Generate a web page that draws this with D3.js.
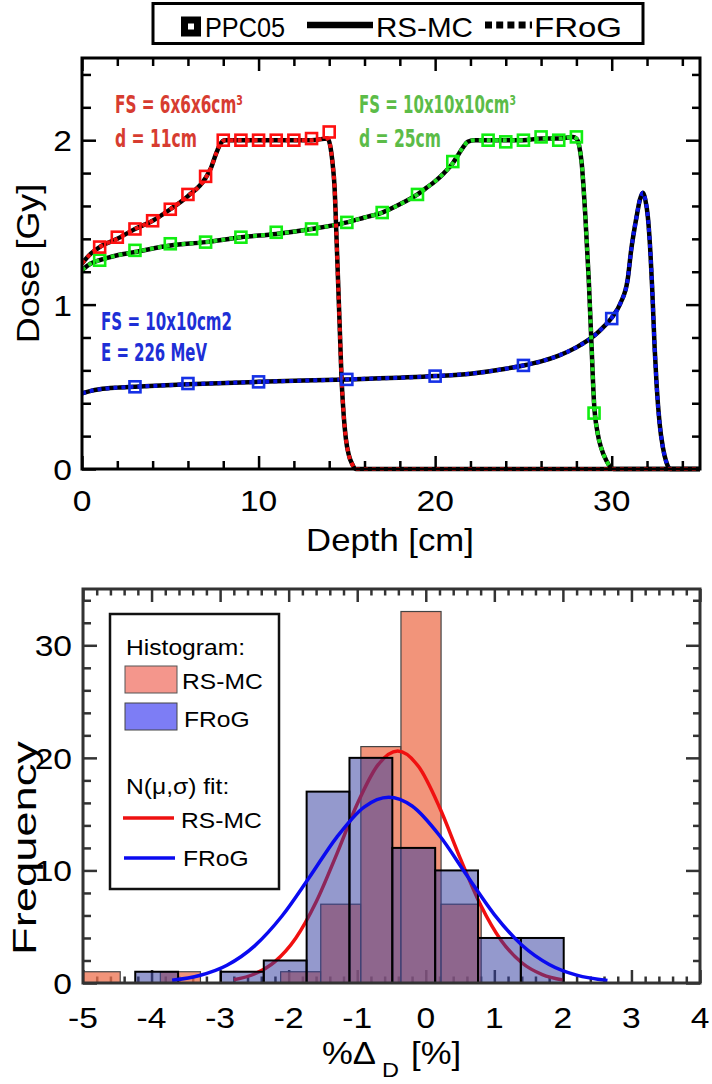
<!DOCTYPE html>
<html><head><meta charset="utf-8">
<script src="https://cdn.jsdelivr.net/npm/d3@7"></script>
<style>body{margin:0;background:#fff;} svg{display:block;}</style>
</head><body><svg id="c" width="712" height="1084"></svg>
<script>
// ---------------- DATA ----------------
// Top panel: depth-dose curves
const redDepth = [0,0.5,1,2,3,4,5,6,7,7.3,7.6,7.85,8.1,9,10,11,12,13,13.9,14.05,14.2,14.3,14.4,14.5,14.6,14.7,14.8,14.95,15.1,15.3,15.5,20,25,30,35];
const redDose  = [1.25,1.31,1.35,1.40,1.46,1.51,1.58,1.66,1.77,1.83,1.92,1.98,2.0,2.0,2.0,2.0,2.0,2.0,2.01,1.97,1.85,1.72,1.45,1.15,0.85,0.55,0.36,0.18,0.09,0.03,0,0,0,0,0];
const greenDepth = [0,0.5,1,2,3,5,7,9,11,13,15,16,17,18,19,19.5,20,20.5,21,21.3,21.6,21.85,22.2,23,24,25,26,27,27.8,28.0,28.15,28.3,28.5,28.7,28.85,29.0,29.2,29.4,29.7,30.1,32,35];
const greenDose  = [1.21,1.25,1.27,1.30,1.32,1.36,1.38,1.41,1.43,1.46,1.50,1.53,1.56,1.61,1.67,1.71,1.75,1.80,1.86,1.91,1.96,1.99,2.0,2.0,2.0,2.0,2.01,2.01,2.02,2.01,1.97,1.86,1.55,1.15,0.77,0.40,0.22,0.13,0.05,0,0,0];
const blueDepth = [0,0.5,1,2,3,6,10,15,20,22,24,25,26,27,28,29,29.5,30,30.5,30.9,31.1,31.4,31.6,31.77,31.9,32.05,32.2,32.3,32.43,32.55,32.71,32.9,33.1,33.3,35];
const blueDose  = [0.46,0.475,0.485,0.495,0.50,0.515,0.53,0.545,0.565,0.58,0.61,0.63,0.655,0.69,0.74,0.81,0.86,0.92,1.01,1.15,1.33,1.53,1.64,1.68,1.64,1.53,1.30,1.08,0.74,0.50,0.28,0.13,0.04,0,0];
// PPC05 measurements
const redMarkX = [1,2,3,4,5,6,7,8,9,10,11,12,13,14];
const redMarkY = [1.35,1.41,1.46,1.51,1.58,1.67,1.78,2.0,2.0,2.0,2.0,2.0,2.01,2.05];
const greenMarkX = [1,3,5,7,9,11,13,15,17,19,21,23,24,25,26,27,28,29];
const greenMarkY = [1.27,1.33,1.37,1.38,1.41,1.44,1.46,1.50,1.56,1.67,1.87,2.0,1.99,2.0,2.02,2.0,2.02,0.34];
const blueMarkX = [3,6,10,15,20,25,30];
const blueMarkY = [0.50,0.52,0.53,0.545,0.565,0.63,0.915];
const depthTickLabels = [0,10,20,30];
const doseTickLabels = [0,1,2];

// Bottom panel: histograms
const rsmcEdges  = [-5.04,-4.457,-3.872,-3.287,-2.702,-2.117,-1.532,-0.947,-0.362,0.223,0.808];
const rsmcCounts = [1,0,1,0,0,1,7,21,33,7];
const frogEdges  = [-4.238,-3.613,-2.988,-2.363,-1.738,-1.113,-0.488,0.137,0.762,1.387,2.012];
const frogCounts = [1,0,1,2,17,20,12,10,4,4];
// N(mu,sigma) fit curves (read points)
const fitRsX = [-2.8,-2.5,-2.2,-1.9,-1.6,-1.3,-1.0,-0.7,-0.41,-0.1,0.2,0.5,0.8,1.1,1.4,1.7,2.0];
const fitRsY = [0.29,0.80,1.90,3.95,7.19,11.43,15.90,19.35,20.6,19.18,15.61,11.12,6.93,3.78,1.80,0.75,0.27];
const fitFrX = [-3.7,-3.3,-2.9,-2.5,-2.1,-1.7,-1.3,-0.9,-0.54,-0.2,0.2,0.6,1.0,1.4,1.8,2.2,2.65];
const fitFrY = [0.25,0.67,1.58,3.28,5.93,9.37,12.94,15.63,16.5,15.72,13.10,9.55,6.08,3.38,1.65,0.70,0.23];
const devTickLabels = [-5,-4,-3,-2,-1,0,1,2,3,4];
const freqTickLabels = [0,10,20,30];

// ---------------- DRAWING ----------------
const svg = d3.select('#c');
const FONT = "'Liberation Sans', Arial, Helvetica, sans-serif";
const NARROW = "'Liberation Sans Narrow', 'DejaVu Sans Condensed', 'Roboto Condensed', 'Liberation Sans', sans-serif";
const SX = 1.12;
function T(parent, x, y, str, o={}) {
  const sx = o.sx ?? SX;
  const t = parent.append('text')
    .attr('transform', `translate(${x},${y})` + (o.rot ? ` rotate(${o.rot})` : '') + ` scale(${sx},1)`)
    .attr('text-anchor', o.anchor || 'start')
    .attr('font-family', o.family || FONT)
    .attr('font-size', o.size || 28)
    .attr('font-weight', o.weight || 'normal')
    .attr('fill', o.fill || '#000')
    .text(str);
  if (o.stretch) t.attr('font-stretch', o.stretch);
  if (o.len) t.attr('textLength', o.len / sx).attr('lengthAdjust', 'spacingAndGlyphs');
  return t;
}
function ticks(g, axisFn, scale, values, pos, size, w, color) {
  g.append('g').attr('transform', pos)
    .call(axisFn(scale).tickValues(values).tickSize(size).tickFormat(''))
    .call(s => s.select('.domain').remove())
    .call(s => s.selectAll('line').attr('stroke', color).attr('stroke-width', w));
}

// ===== TOP PANEL =====
const x1 = d3.scaleLinear().domain([0,35]).range([82,700]);
const y1 = d3.scaleLinear().domain([0,2.5]).range([469,58]);
const topG = svg.append('g');
const t1 = [x1.range()[0], y1.range()[1], x1.range()[1], y1.range()[0]]; // l,t,r,b
const depthMinor = d3.range(0,35.01,2).filter(v => v % 10 !== 0);
const doseMinor = d3.range(0,2.51,0.2).filter(v => Math.abs(v - Math.round(v)) > 1e-6);
ticks(topG, d3.axisBottom, x1, depthTickLabels, `translate(0,${t1[3]})`, -13, 2.5, '#000');
ticks(topG, d3.axisBottom, x1, depthMinor, `translate(0,${t1[3]})`, -8, 2.5, '#000');
ticks(topG, d3.axisTop, x1, depthTickLabels, `translate(0,${t1[1]})`, -13, 2.5, '#000');
ticks(topG, d3.axisTop, x1, depthMinor, `translate(0,${t1[1]})`, -8, 2.5, '#000');
ticks(topG, d3.axisLeft, y1, doseTickLabels, `translate(${t1[0]},0)`, -14, 2.5, '#000');
ticks(topG, d3.axisLeft, y1, doseMinor, `translate(${t1[0]},0)`, -9, 2.5, '#000');
ticks(topG, d3.axisRight, y1, doseTickLabels, `translate(${t1[2]},0)`, -14, 2.5, '#000');
ticks(topG, d3.axisRight, y1, doseMinor, `translate(${t1[2]},0)`, -8, 2.5, '#000');

svg.append('clipPath').attr('id','clipTop').append('rect')
  .attr('x', t1[0]).attr('y', t1[1]).attr('width', t1[2]-t1[0]).attr('height', t1[3]-t1[1]+3);
const curves = topG.append('g').attr('clip-path','url(#clipTop)');
const line1 = d3.line().x(d => x1(d[0])).y(d => y1(d[1])).curve(d3.curveMonotoneX);
const sets = [
  {dx: blueDepth, dy: blueDose, c: '#0a14e6'},
  {dx: greenDepth, dy: greenDose, c: '#22dd22'},
  {dx: redDepth, dy: redDose, c: '#ee1111'}
];
sets.forEach(s => {
  const pts = d3.zip(s.dx, s.dy);
  curves.append('path').attr('d', line1(pts)).attr('fill','none').attr('stroke','#000').attr('stroke-width',4.5).attr('stroke-linejoin','round');
  curves.append('path').attr('d', line1(pts)).attr('fill','none').attr('stroke',s.c).attr('stroke-width',4).attr('stroke-dasharray','4 4');
});
const marks = [
  {mx: blueMarkX, my: blueMarkY, c: '#1530e6'},
  {mx: greenMarkX, my: greenMarkY, c: '#11ee11'},
  {mx: redMarkX, my: redMarkY, c: '#ff1010'}
];
marks.forEach(m => {
  curves.selectAll(null).data(d3.zip(m.mx, m.my)).enter().append('rect')
    .attr('x', d => x1(d[0]) - 5.5).attr('y', d => y1(d[1]) - 5.5)
    .attr('width', 11).attr('height', 11)
    .attr('fill','none').attr('stroke', m.c).attr('stroke-width', 2.6);
});
topG.append('rect').attr('x', t1[0]).attr('y', t1[1]).attr('width', t1[2]-t1[0]).attr('height', t1[3]-t1[1])
  .attr('fill','none').attr('stroke','#000').attr('stroke-width',3);
depthTickLabels.forEach(v => T(topG, x1(v), 511, String(v), {anchor:'middle', size:30}));
doseTickLabels.forEach(v => T(topG, 72, y1(v) + 11, String(v), {anchor:'end', size:30}));
T(topG, 390, 551, 'Depth [cm]', {anchor:'middle', size:31});
T(topG, 39, (t1[1]+t1[3])/2, 'Dose [Gy]', {anchor:'middle', size:32, rot:-90});
const annR = '#d73c30', annG = '#5cbc48', annB = '#1e2fd6';
const ann = {size:25, family:NARROW, weight:'bold', sx:1, stretch:'condensed'};
T(topG, 115, 113, 'FS = 6x6x6cm³', {...ann, fill:annR, len:128});
T(topG, 115, 147, 'd = 11cm', {...ann, fill:annR, len:82});
T(topG, 359, 113, 'FS = 10x10x10cm³', {...ann, fill:annG, len:157});
T(topG, 359, 147, 'd = 25cm', {...ann, fill:annG, len:82});
T(topG, 101, 330, 'FS = 10x10cm2', {...ann, fill:annB, len:131});
T(topG, 101, 361, 'E = 226 MeV', {...ann, fill:annB, len:106});

// top legend
const lg = svg.append('g');
lg.append('rect').attr('x',153).attr('y',3.5).attr('width',490).attr('height',40)
  .attr('fill','#fff').attr('stroke','#000').attr('stroke-width',3);
lg.append('rect').attr('x',181).attr('y',16.5).attr('width',20).attr('height',20).attr('fill','#000');
lg.append('rect').attr('x',188).attr('y',23.5).attr('width',6).attr('height',6).attr('fill','#fff');
T(lg, 205, 36.5, 'PPC05', {size:28, len:80});
lg.append('line').attr('x1',307).attr('x2',373).attr('y1',25).attr('y2',25).attr('stroke','#000').attr('stroke-width',6.5);
T(lg, 376, 36.5, 'RS-MC', {size:28, len:97});
lg.append('line').attr('x1',485).attr('x2',532).attr('y1',25).attr('y2',25).attr('stroke','#000').attr('stroke-width',7).attr('stroke-dasharray','7 4.2');
T(lg, 534, 36.5, 'FRoG', {size:28, len:88});

// ===== BOTTOM PANEL =====
const x2 = d3.scaleLinear().domain([-5,4]).range([83,700]);
const y2 = d3.scaleLinear().domain([0,35]).range([983,589]);
const bot = svg.append('g');
const b = [x2.range()[0], y2.range()[1], x2.range()[1], y2.range()[0]];
const fc = '#333';
const devMinor = d3.range(-5,4.001,0.2).filter(v => Math.abs(v - Math.round(v)) > 1e-6);
const freqMinor = d3.range(0,35.01,2).filter(v => v % 10 !== 0);
ticks(bot, d3.axisBottom, x2, devTickLabels, `translate(0,${b[3]})`, -13, 2.5, fc);
ticks(bot, d3.axisBottom, x2, devMinor, `translate(0,${b[3]})`, -6.5, 2.5, fc);
ticks(bot, d3.axisTop, x2, devTickLabels, `translate(0,${b[1]})`, -13, 2.5, fc);
ticks(bot, d3.axisTop, x2, devMinor, `translate(0,${b[1]})`, -6.5, 2.5, fc);
ticks(bot, d3.axisLeft, y2, freqTickLabels, `translate(${b[0]},0)`, -14, 2.5, fc);
ticks(bot, d3.axisLeft, y2, freqMinor, `translate(${b[0]},0)`, -8, 2.5, fc);
ticks(bot, d3.axisRight, y2, freqTickLabels, `translate(${b[2]},0)`, -14, 2.5, fc);
ticks(bot, d3.axisRight, y2, freqMinor, `translate(${b[2]},0)`, -7, 2.5, fc);

const rsBins = rsmcCounts.map((c,i) => ({x0: rsmcEdges[i], x1: rsmcEdges[i+1], n: c})).filter(d => d.n > 0);
const frBins = frogCounts.map((c,i) => ({x0: frogEdges[i], x1: frogEdges[i+1], n: c})).filter(d => d.n > 0);
svg.append('clipPath').attr('id','clipBot').append('rect')
  .attr('x', b[0]).attr('y', b[1]).attr('width', b[2]-b[0]).attr('height', b[3]-b[1]);
const hb = bot.append('g').attr('clip-path','url(#clipBot)');
hb.selectAll(null).data(rsBins).enter().append('rect')
  .attr('x', d => x2(d.x0)).attr('width', d => x2(d.x1) - x2(d.x0))
  .attr('y', d => y2(d.n)).attr('height', d => y2(0) - y2(d.n))
  .attr('fill','rgb(238,112,78)').attr('fill-opacity',0.75)
  .attr('stroke','#444').attr('stroke-width',1.2);
const line2 = d3.line().x(d => x2(d[0])).y(d => y2(d[1])).curve(d3.curveMonotoneX);
hb.append('path').attr('d', line2(d3.zip(fitRsX, fitRsY))).attr('fill','none').attr('stroke','#f01010').attr('stroke-width',3.5);
hb.selectAll(null).data(frBins).enter().append('rect')
  .attr('x', d => x2(d.x0)).attr('width', d => x2(d.x1) - x2(d.x0))
  .attr('y', d => y2(d.n)).attr('height', d => y2(0) - y2(d.n))
  .attr('fill','rgb(50,60,160)').attr('fill-opacity',0.52)
  .attr('stroke','#000').attr('stroke-width',2);
hb.append('path').attr('d', line2(d3.zip(fitFrX, fitFrY))).attr('fill','none').attr('stroke','#0a0af0').attr('stroke-width',3.5);
bot.append('rect').attr('x', b[0]).attr('y', b[1]).attr('width', b[2]-b[0]).attr('height', b[3]-b[1])
  .attr('fill','none').attr('stroke', fc).attr('stroke-width',3);
devTickLabels.forEach(v => T(bot, x2(v), 1028, String(v), {anchor:'middle', size:30}));
freqTickLabels.forEach(v => T(bot, 72, y2(v) + 11, String(v), {anchor:'end', size:30}));
T(bot, 36, 848, 'Frequency', {anchor:'middle', size:33, rot:-90, len:214});
T(bot, 322, 1064, '%Δ', {size:31});
T(bot, 382, 1077, 'D', {size:21});
T(bot, 411, 1064, '[%]', {size:31});

// bottom legend
const bl = svg.append('g');
bl.append('rect').attr('x',110).attr('y',614).attr('width',169).attr('height',275)
  .attr('fill','#fff').attr('stroke','#111').attr('stroke-width',2.5);
T(bl, 126, 655, 'Histogram:', {size:22});
bl.append('rect').attr('x',125).attr('y',666).attr('width',52).attr('height',27).attr('fill','#f4968c').attr('stroke','#555').attr('stroke-width',1);
T(bl, 182, 689, 'RS-MC', {size:22});
bl.append('rect').attr('x',125).attr('y',703).attr('width',52).attr('height',27).attr('fill','#7d7df5').attr('stroke','#444').attr('stroke-width',1);
T(bl, 184, 727, 'FRoG', {size:22});
T(bl, 126, 794, 'N(μ,σ) fit:', {size:22});
bl.append('line').attr('x1',123).attr('x2',174).attr('y1',818).attr('y2',818).attr('stroke','#ee1111').attr('stroke-width',3.5);
T(bl, 181, 828, 'RS-MC', {size:22});
bl.append('line').attr('x1',124).attr('x2',175).attr('y1',858).attr('y2',858).attr('stroke','#0a0af0').attr('stroke-width',3.5);
T(bl, 183, 866, 'FRoG', {size:22});
</script></body></html>
